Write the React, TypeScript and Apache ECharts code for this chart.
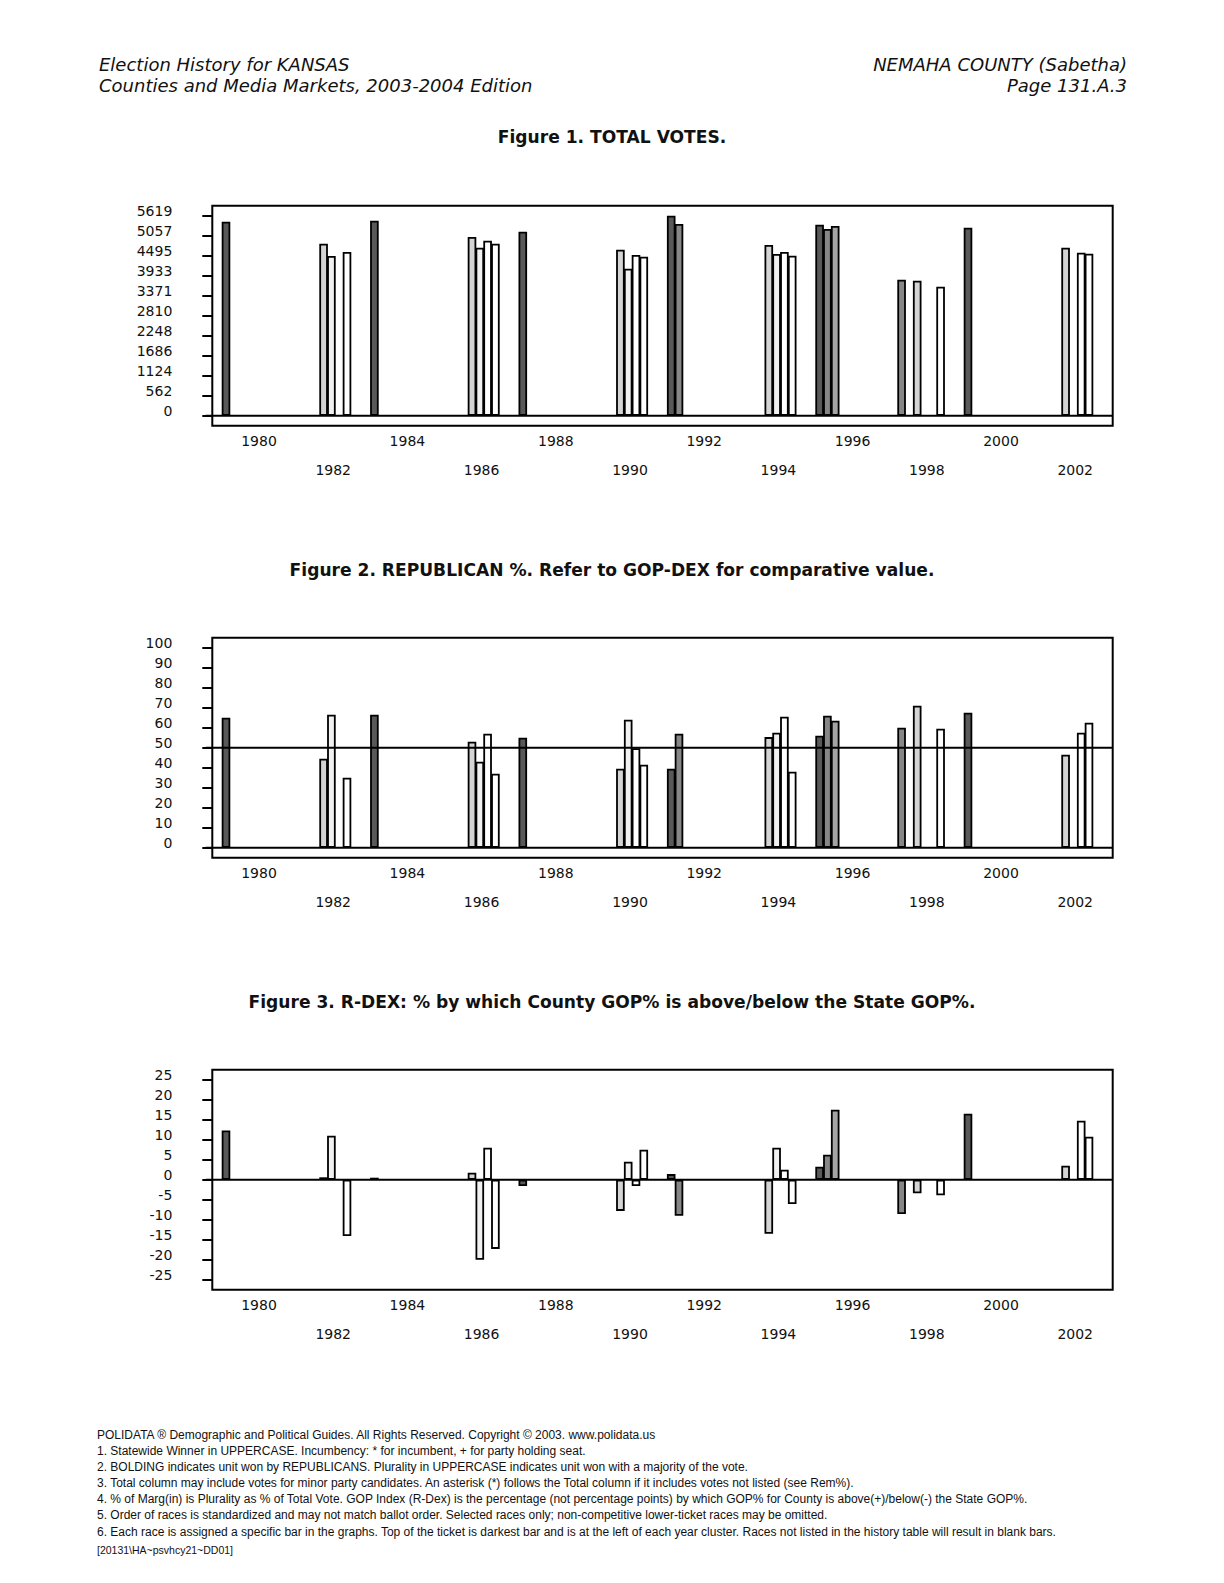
import React, { useEffect, useRef } from 'react';
import * as echarts from 'echarts';

// ---------- DATA ----------
const years = ['1980', '1982', '1984', '1986', '1988', '1990', '1992', '1994', '1996', '1998', '2000', '2002'];
const N = null;

// Figure 1. Total votes, one array per race slot (slot 0 = top of ticket)
const votesSlot0 = [5450, N, 5479, N, 5170, N, 5619, N, 5366, N, 5282, N];
const votesSlot1 = [N, N, N, N, N, N, 5386, N, 5245, 3821, N, N];
const votesSlot2 = [N, N, N, N, N, N, N, N, 5330, N, N, N];
const votesSlot3 = [N, 4832, N, 5021, N, 4664, N, 4796, N, 3793, N, 4720];
const votesSlot4 = [N, 4487, N, 4720, N, 4130, N, 4543, N, N, N, N];
const votesSlot5 = [N, N, N, 4917, N, 4515, N, 4599, N, N, N, 4580];
const votesSlot6 = [N, 4599, N, 4832, N, 4467, N, 4495, N, 3624, N, 4551];
const votesTicks = ['0', '562', '1124', '1686', '2248', '2810', '3371', '3933', '4495', '5057', '5619'];

// Figure 2. Republican %
const repSlot0 = [65, N, 66.5, N, 55, N, 39.5, N, 56, N, 67.5, N];
const repSlot1 = [N, N, N, N, N, N, 57, N, 66, 60, N, N];
const repSlot2 = [N, N, N, N, N, N, N, N, 63.5, N, N, N];
const repSlot3 = [N, 44.5, N, 53, N, 39.5, N, 55.3, N, 71, N, 46.5];
const repSlot4 = [N, 66.5, N, 43, N, 64, N, 57.5, N, N, N, N];
const repSlot5 = [N, N, N, 57, N, 49.7, N, 65.5, N, N, N, 57.5];
const repSlot6 = [N, 35, N, 37, N, 41.5, N, 38, N, 59.5, N, 62.5];
const repReference = 50;

// Figure 3. R-DEX
const rdexSlot0 = [12.3, N, 0.5, N, -1.6, N, 1.4, N, 3.25, N, 16.5, N];
const rdexSlot1 = [N, N, N, N, N, N, -9, N, 6.25, -8.6, N, N];
const rdexSlot2 = [N, N, N, N, N, N, N, N, 17.5, N, N, N];
const rdexSlot3 = [N, 0.6, N, 1.75, N, -7.8, N, -13.5, N, -3.4, N, 3.5];
const rdexSlot4 = [N, 11, N, -20, N, 4.5, N, 8, N, N, N, N];
const rdexSlot5 = [N, N, N, 8, N, -1.6, N, 2.5, N, N, N, 14.75];
const rdexSlot6 = [N, -14.1, N, -17.3, N, 7.5, N, -6.1, N, -3.9, N, 10.75];

const slotColors = ['#595959', '#878787', '#a4a4a4', '#d4d4d4', '#f1f1f1', '#ffffff', '#ffffff'];

const headerLeft = ['Election History for KANSAS', 'Counties and Media Markets, 2003-2004 Edition'];
const headerRight = ['NEMAHA COUNTY (Sabetha)', 'Page 131.A.3'];
const titles = [
  'Figure 1. TOTAL VOTES.',
  'Figure 2. REPUBLICAN %. Refer to GOP-DEX for comparative value.',
  'Figure 3. R-DEX: % by which County GOP% is above/below the State GOP%.',
];
const footnotes = [
  'POLIDATA \u00AE Demographic and Political Guides. All Rights Reserved. Copyright \u00A9 2003. www.polidata.us',
  '1. Statewide Winner in UPPERCASE. Incumbency: * for incumbent, + for party holding seat.',
  '2. BOLDING indicates unit won by REPUBLICANS. Plurality in UPPERCASE indicates unit won with a majority of the vote.',
  '3. Total column may include votes for minor party candidates. An asterisk (*) follows the Total column if it includes votes not listed (see Rem%).',
  '4. % of Marg(in) is Plurality as % of Total Vote. GOP Index (R-Dex) is the percentage (not percentage points) by which GOP% for County is above(+)/below(-) the State GOP%.',
  '5. Order of races is standardized and may not match ballot order. Selected races only; non-competitive lower-ticket races may be omitted.',
  '6. Each race is assigned a specific bar in the graphs. Top of the ticket is darkest bar and is at the left of each year cluster. Races not listed in the history table will result in blank bars.',
];
const docCode = '[20131\\HA~psvhcy21~DD01]';

// ---------- LAYOUT ----------
const W = 1224;
const H = 1583;
const GRID_LEFT = 212.3;
const GRID_WIDTH = 890.4;
const GRID_H = 200;
const GRID_TOPS = [215.7, 647.7, 1079.7];
const FRAME_RIGHT = 1112.7;
const FRAME_PAD = 10;
const REF_LEFT = 205.7;
const TITLE_Y = [137, 569.5, 1001.5];
const FOOT_Y = [1434.6, 1450.8, 1467, 1483.1, 1499.2, 1515.4, 1531.6];
const FONT = 'DejaVu Sans';
const INK = '#111111';

const chartsData = [
  [votesSlot0, votesSlot1, votesSlot2, votesSlot3, votesSlot4, votesSlot5, votesSlot6],
  [repSlot0, repSlot1, repSlot2, repSlot3, repSlot4, repSlot5, repSlot6],
  [rdexSlot0, rdexSlot1, rdexSlot2, rdexSlot3, rdexSlot4, rdexSlot5, rdexSlot6],
];

const yScales = [
  { min: 0, max: 5619, interval: 561.9, fmt: (v: number) => votesTicks[Math.round(v / 561.9)] ?? '' },
  { min: 0, max: 100, interval: 10, fmt: (v: number) => String(v) },
  { min: -25, max: 25, interval: 5, fmt: (v: number) => String(v) },
];

export default function App() {
  const ref = useRef<HTMLDivElement | null>(null);

  useEffect(() => {
    if (!ref.current) return;
    const chart = echarts.init(ref.current, undefined, { renderer: 'svg', width: W, height: H });

    const grids = GRID_TOPS.map((top) => ({ left: GRID_LEFT, width: GRID_WIDTH, top, height: GRID_H, containLabel: false }));

    const xAxes = GRID_TOPS.map((_, c) => ({
      type: 'category',
      gridIndex: c,
      data: years,
      position: 'bottom',
      boundaryGap: true,
      axisLine: { show: false, onZero: false },
      axisTick: { show: false },
      splitLine: { show: false },
      axisLabel: {
        interval: 0,
        margin: 10.8,
        padding: [0, 0, 0, 19.2],
        fontFamily: FONT,
        fontSize: 14,
        color: INK,
        lineHeight: 29,
        formatter: (v: string, i: number) => (i % 2 === 0 ? v : '\n' + v),
      },
    }));

    const yAxes = yScales.map((s, c) => ({
      type: 'value',
      gridIndex: c,
      min: s.min,
      max: s.max,
      interval: s.interval,
      position: 'left',
      axisLine: { show: false },
      axisTick: { show: true, inside: false, length: 10, lineStyle: { color: '#000', width: 2 } },
      splitLine: { show: false },
      axisLabel: {
        margin: 40,
        fontFamily: FONT,
        fontSize: 14,
        color: INK,
        verticalAlign: 'bottom',
        lineHeight: 10,
        formatter: s.fmt,
      },
    }));

    const series: any[] = [];
    chartsData.forEach((slots, c) => {
      slots.forEach((data, s) => {
        series.push({
          type: 'bar',
          name: `c${c}s${s}`,
          xAxisIndex: c,
          yAxisIndex: c,
          data,
          barWidth: 8.6,
          barGap: '-9.3%',
          silent: true,
          itemStyle: { color: slotColors[s], borderColor: '#000', borderWidth: 1.8 },
        });
      });
    });

    chart.setOption({
      animation: false,
      backgroundColor: '#ffffff',
      grid: grids,
      xAxis: xAxes,
      yAxis: yAxes,
      series,
    });

    // reference lines located through the library's scales
    const refLines: { axis: number; value: number }[] = [
      { axis: 0, value: 0 },
      { axis: 1, value: 0 },
      { axis: 1, value: repReference },
      { axis: 2, value: 0 },
    ];

    const elements: any[] = [];
    GRID_TOPS.forEach((top) => {
      elements.push({
        type: 'rect',
        silent: true,
        shape: { x: GRID_LEFT, y: top - FRAME_PAD, width: FRAME_RIGHT - GRID_LEFT, height: GRID_H + 2 * FRAME_PAD },
        style: { fill: 'none', stroke: '#000', lineWidth: 2 },
        z: 100,
      });
    });
    refLines.forEach((r) => {
      const y = chart.convertToPixel({ yAxisIndex: r.axis } as any, r.value) as unknown as number;
      elements.push({
        type: 'line',
        silent: true,
        shape: { x1: REF_LEFT, y1: y, x2: FRAME_RIGHT, y2: y },
        style: { stroke: '#000', lineWidth: 2 },
        z: 100,
      });
    });

    const txt = (text: string, x: number, y: number, opts: any) => ({
      type: 'text',
      silent: true,
      x,
      y,
      z: 100,
      style: {
        text,
        fill: INK,
        fontFamily: FONT,
        verticalAlign: 'middle',
        textVerticalAlign: 'middle',
        ...opts,
      },
    });

    const hdr = { fontSize: 18, fontStyle: 'italic' };
    elements.push(txt(headerLeft[0], 99, 64.5, { ...hdr, align: 'left', textAlign: 'left' }));
    elements.push(txt(headerLeft[1], 99, 85, { ...hdr, align: 'left', textAlign: 'left' }));
    elements.push(txt(headerRight[0], 1127, 64.5, { ...hdr, align: 'right', textAlign: 'right' }));
    elements.push(txt(headerRight[1], 1127, 85, { ...hdr, align: 'right', textAlign: 'right' }));

    titles.forEach((t, i) => {
      elements.push(txt(t, 612, TITLE_Y[i], { fontSize: 17.1, fontWeight: 'bold', align: 'center', textAlign: 'center' }));
    });

    footnotes.forEach((t, i) => {
      elements.push(txt(t, 97, FOOT_Y[i], { fontSize: 12, fontFamily: 'Liberation Sans', align: 'left', textAlign: 'left' }));
    });
    elements.push(txt(docCode, 97, 1549.7, { fontSize: 10.5, fontFamily: 'Liberation Sans', align: 'left', textAlign: 'left' }));

    chart.setOption({ graphic: { elements } });

    return () => {
      chart.dispose();
    };
  }, []);

  return (
    <div
      ref={ref}
      style={{ position: 'fixed', left: 0, top: 0, width: W, height: H, background: '#ffffff' }}
    />
  );
}
